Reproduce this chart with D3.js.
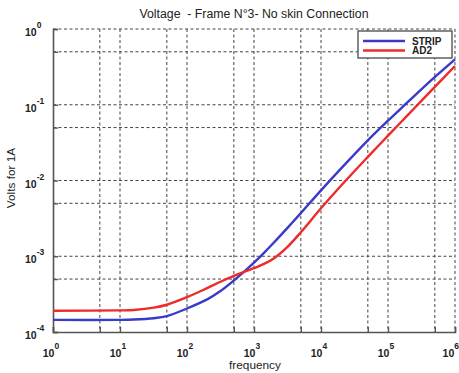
<!DOCTYPE html>
<html>
<head>
<meta charset="utf-8">
<script src="https://cdn.jsdelivr.net/npm/d3@7"></script>
<style>
  html, body { margin: 0; padding: 0; background: #fff; }
  svg { display: block; font-family: "Liberation Sans", Arial, sans-serif; }
</style>
</head>
<body>
<svg id="chart" width="459" height="373"></svg>
<script>
// Frequency sweep (Hz) and voltage per ampere for the two probes
const frequency = [1, 10, 16, 32, 50, 100, 200, 316, 500, 740, 1000, 1410, 2000, 3160, 5000,
                   10000, 20000, 50000, 100000, 200000, 400000, 1000000];
const stripVolts = [1.445e-4, 1.445e-4, 1.459e-4, 1.521e-4, 1.622e-4, 2.042e-4, 2.692e-4, 3.467e-4,
                    4.786e-4, 6.457e-4, 8.222e-4, 1.109e-3, 1.531e-3, 2.371e-3, 3.715e-3, 7.413e-3,
                    1.445e-2, 3.388e-2, 6.166e-2, 0.1096, 0.195, 0.398];
const ad2Volts = [1.905e-4, 1.928e-4, 1.954e-4, 2.094e-4, 2.291e-4, 2.877e-4, 3.793e-4, 4.603e-4,
                  5.508e-4, 6.295e-4, 6.950e-4, 7.925e-4, 9.441e-4, 1.330e-3, 2.075e-3, 4.295e-3,
                  8.590e-3, 2.051e-2, 3.908e-2, 7.396e-2, 0.1400, 0.3251];
const seriesNames = ["STRIP", "AD2"];
const seriesColors = ["#3a3ac8", "#ee2a2a"];

// Axis ticks: decades, with extra grid lines at 5x each decade
const xTickValues = [1, 10, 100, 1000, 10000, 100000, 1000000];
const xTickExp = ["0", "1", "2", "3", "4", "5", "6"];
const yTickValues = [1e-4, 1e-3, 1e-2, 1e-1, 1];
const yTickExp = ["-4", "-3", "-2", "-1", "0"];
const xGridValues = [5, 10, 50, 100, 500, 1000, 5000, 10000, 50000, 100000, 500000, 1000000];
const yGridValues = [5e-4, 1e-3, 5e-3, 1e-2, 5e-2, 1e-1, 5e-1, 1];

const titleText = "Voltage  - Frame N°3- No skin Connection";
const xLabel = "frequency";
const yLabel = "Volts for 1A";

const svg = d3.select("#chart");
const plotL = 53, plotR = 455, plotT = 29, plotB = 332;

const x = d3.scaleLog().domain([1, 1e6]).range([plotL, plotR]);
const y = d3.scaleLog().domain([1e-4, 1]).range([plotB, plotT]);

// Dashed grid
const grid = svg.append("g").attr("stroke", "#444").attr("stroke-width", 1)
  .attr("stroke-dasharray", "3,2.5");
grid.selectAll("line.v").data(xGridValues).join("line")
  .attr("x1", d => x(d)).attr("x2", d => x(d))
  .attr("y1", plotT).attr("y2", plotB);
grid.selectAll("line.h").data(yGridValues).join("line")
  .attr("x1", plotL).attr("x2", plotR)
  .attr("y1", d => y(d)).attr("y2", d => y(d));

// Axes with inward ticks at decades and 5x decades
const axisColor = "#555";
const xAxis = svg.append("g").attr("transform", `translate(0,${plotB})`)
  .call(d3.axisBottom(x).tickValues(xGridValues.concat([1])).tickSize(-5).tickFormat(""));
const yAxis = svg.append("g").attr("transform", `translate(${plotL},0)`)
  .call(d3.axisLeft(y).tickValues(yGridValues.concat([1e-4])).tickSize(-5).tickFormat(""));
[xAxis, yAxis].forEach(a => {
  a.select(".domain").attr("stroke", axisColor).attr("stroke-width", 1.6);
  a.selectAll(".tick line").attr("stroke", axisColor).attr("stroke-width", 1.4);
});

// Tick labels as 10 with superscript exponents
const labelFill = "#222";
const xl = svg.append("g").attr("fill", labelFill).attr("font-size", 10.5).attr("font-weight", "bold");
xTickValues.forEach((v, i) => {
  const last = i === xTickValues.length - 1;
  const t = xl.append("text").attr("x", last ? 459 : x(v) - 2).attr("y", 357)
    .attr("text-anchor", last ? "end" : "middle");
  t.append("tspan").text("10");
  t.append("tspan").attr("dy", -8).attr("font-size", 8.5).text(xTickExp[i]);
});
const yl = svg.append("g").attr("fill", labelFill).attr("font-size", 10.5).attr("font-weight", "bold");
yTickValues.forEach((v, i) => {
  const t = yl.append("text").attr("x", 25).attr("y", y(v) + 7);
  t.append("tspan").text("10");
  t.append("tspan").attr("dy", -8).attr("font-size", 8.5).text(yTickExp[i]);
});

// Curves
const line = d3.line().x((d, i) => x(frequency[i])).y(d => y(d)).curve(d3.curveCatmullRom.alpha(0.5));
[stripVolts, ad2Volts].forEach((vals, k) => {
  svg.append("path").datum(vals).attr("d", line)
    .attr("fill", "none").attr("stroke", seriesColors[k]).attr("stroke-width", 2.4);
});

// Legend
const lg = svg.append("g");
lg.append("rect").attr("x", 358).attr("y", 31).attr("width", 94).attr("height", 27)
  .attr("fill", "#fff").attr("stroke", "#555").attr("stroke-width", 1.4);
seriesNames.forEach((name, k) => {
  const yy = 41 + k * 9.5;
  lg.append("line").attr("x1", 363).attr("x2", 405).attr("y1", yy).attr("y2", yy)
    .attr("stroke", seriesColors[k]).attr("stroke-width", 2.6);
  lg.append("text").attr("x", 412).attr("y", yy + 3.8).attr("font-size", 10)
    .attr("font-weight", "bold").attr("fill", "#222").text(name);
});

// Titles
svg.append("text").attr("x", 254).attr("y", 18).attr("text-anchor", "middle")
  .style("white-space", "pre")
  .attr("font-size", 12.3).attr("fill", "#222").text(titleText);
svg.append("text").attr("x", 255).attr("y", 369).attr("text-anchor", "middle")
  .attr("font-size", 11.8).attr("fill", "#222").text(xLabel);
svg.append("text").attr("transform", "translate(15,178) rotate(-90)").attr("text-anchor", "middle")
  .attr("font-size", 11.8).attr("fill", "#222").text(yLabel);
</script>
</body>
</html>
